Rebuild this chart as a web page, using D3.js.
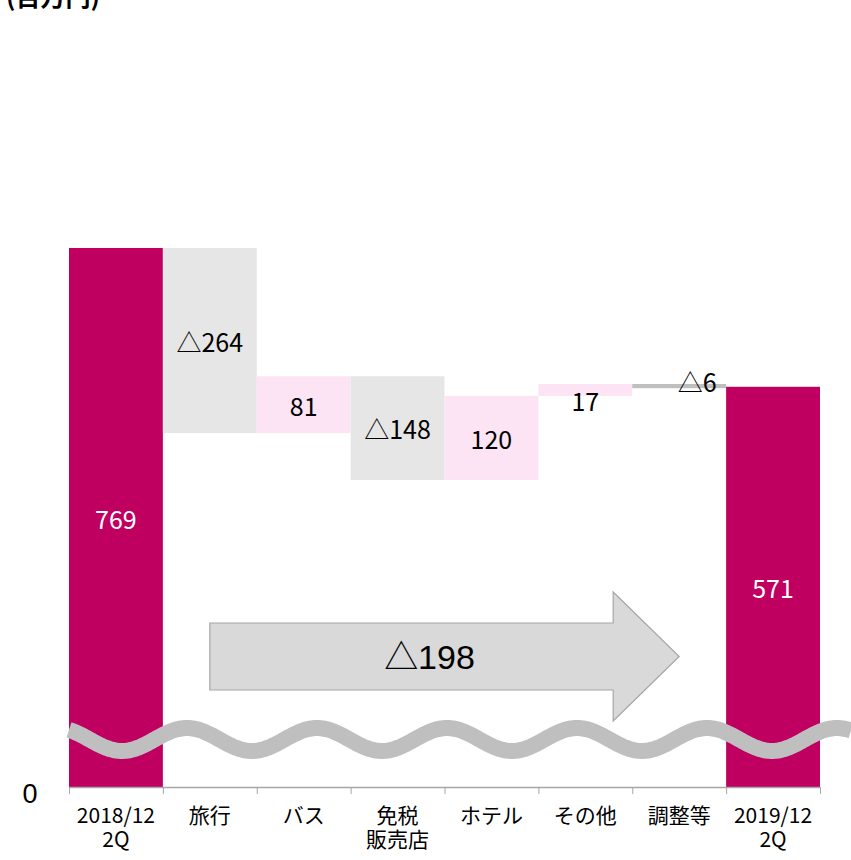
<!DOCTYPE html>
<html>
<head>
<meta charset="utf-8">
<script src="https://cdn.jsdelivr.net/npm/d3@7"></script>
<style>
  html, body { margin: 0; padding: 0; background: #fff; overflow: hidden; }
  text { font-family: "Noto Sans CJK JP", "Noto Sans", sans-serif; }
</style>
</head>
<body>
<div id="viz_canvas"></div>
<script>
"use strict";

// waterfall: start value, step changes, end value
var categories = ["2018/12\n2Q", "旅行", "バス", "免税\n販売店", "ホテル", "その他", "調整等", "2019/12\n2Q"];
var startValue = 769;
var deltas = [-264, 81, -148, 120, 17, -6];
var endValue = 571;
var unitLabel = "(百万円)";

var W = 851, H = 860;
var svg = d3.select("#viz_canvas").append("svg")
    .attr("width", W).attr("height", H);

var x = d3.scaleBand().domain(categories).range([69, 820]).padding(0);
var y = d3.scaleLinear().domain([0, 769]).range([787, 248]);

// build bar table
var bars = [];
var run = startValue;
bars.push({ cat: categories[0], y0: 0, y1: startValue, kind: "total", label: String(startValue) });
deltas.forEach(function (d, i) {
    var from = run;
    run += d;
    bars.push({
        cat: categories[i + 1],
        y0: Math.min(from, run),
        y1: Math.max(from, run),
        kind: i === deltas.length - 1 ? "adjust" : (d < 0 ? "down" : "up"),
        label: d < 0 ? "△" + Math.abs(d) : String(d)
    });
});
bars.push({ cat: categories[categories.length - 1], y0: 0, y1: endValue, kind: "total", label: String(endValue) });

var fill = { total: "#c00060", down: "#e6e6e6", up: "#fce4f5", adjust: "#bfbfbf" };

svg.append("g").attr("class", "bars")
    .selectAll("rect")
    .data(bars)
    .enter().append("rect")
    .attr("x", d => x(d.cat))
    .attr("width", x.bandwidth())
    .attr("y", d => y(d.y1))
    .attr("height", d => y(d.y0) - y(d.y1))
    .attr("fill", d => fill[d.kind]);

svg.append("g").attr("class", "labels")
    .selectAll("text")
    .data(bars)
    .enter().append("text")
    .attr("text-anchor", "middle")
    .attr("x", function (d) {
        var cx = x(d.cat) + x.bandwidth() / 2;
        return d.kind === "adjust" ? cx + 18 : cx;
    })
    .attr("y", function (d) {
        var cy = (y(d.y0) + y(d.y1)) / 2;
        var h = y(d.y0) - y(d.y1);
        if (h < 20) cy += d.kind === "adjust" ? -5 : 10;
        return cy + 2;
    })
    .attr("dy", ".36em")
    .style("font-size", "25px")
    .style("fill", d => d.kind === "total" ? "#fff" : "#000")
    .text(d => d.label);

// big arrow showing total change
var ax0 = x(categories[1]) + x.bandwidth() / 2;
var ax1 = x(categories[6]) + x.bandwidth() / 2;
var headX = ax1 - 66;
var arrow = d3.path();
arrow.moveTo(ax0, 623);
arrow.lineTo(headX, 623);
arrow.lineTo(headX, 592);
arrow.lineTo(ax1, 656.5);
arrow.lineTo(headX, 721);
arrow.lineTo(headX, 690);
arrow.lineTo(ax0, 690);
arrow.closePath();
svg.append("path")
    .attr("d", arrow.toString())
    .attr("fill", "#d9d9d9")
    .attr("stroke", "#a6a6a6")
    .attr("stroke-width", 1.2);

svg.append("text")
    .attr("x", (ax0 + ax1) / 2 - 15)
    .attr("y", 657)
    .attr("dy", ".36em")
    .attr("text-anchor", "middle")
    .style("font-family", "'Liberation Sans', 'Noto Sans CJK JP', sans-serif")
    .style("font-size", "34px")
    .text("△" + Math.abs(endValue - startValue));

// axis break wave
var wave = d3.range(69, W + 2, 2).map(function (px) {
    return [px, 739.5 + 11.5 * Math.sin(2 * Math.PI * (px - 89.5) / 130)];
});
svg.append("path")
    .attr("d", d3.line().curve(d3.curveBasis)(wave))
    .attr("fill", "none")
    .attr("stroke", "#bfbfbf")
    .attr("stroke-width", 16);

// x axis
var xAxis = svg.append("g").attr("class", "x-axis");
xAxis.append("line")
    .attr("x1", 69).attr("x2", 820)
    .attr("y1", 787.5).attr("y2", 787.5)
    .attr("stroke", "#a6a6a6").attr("stroke-width", 1.5);
xAxis.selectAll(".tick")
    .data(categories.concat([null]))
    .enter().append("line")
    .attr("x1", (d, i) => 69 + i * x.step() + 0.5)
    .attr("x2", (d, i) => 69 + i * x.step() + 0.5)
    .attr("y1", 787).attr("y2", 794)
    .attr("stroke", "#a6a6a6").attr("stroke-width", 1);

// one text per line so the label rows stay separate
var catLines = [];
categories.forEach(function (c) {
    c.split("\n").forEach(function (line, i) {
        catLines.push({ cat: c, row: i, text: line });
    });
});
xAxis.selectAll(".cat")
    .data(catLines)
    .enter().append("text")
    .attr("class", "cat")
    .attr("text-anchor", "middle")
    .attr("x", d => x(d.cat) + x.bandwidth() / 2)
    .attr("y", d => 823 + d.row * 24)
    .style("font-size", "21px")
    .text(d => d.text);

// y zero label
svg.append("text")
    .attr("x", 30)
    .attr("y", 803)
    .attr("text-anchor", "middle")
    .style("font-family", "'Liberation Sans', sans-serif")
    .style("font-size", "27px")
    .text(y.domain()[0]);

// unit label, cut off at the top
svg.append("text")
    .attr("x", 100)
    .attr("y", 6)
    .attr("text-anchor", "end")
    .style("font-size", "25px")
    .style("font-weight", "bold")
    .text(unitLabel);
</script>
</body>
</html>
